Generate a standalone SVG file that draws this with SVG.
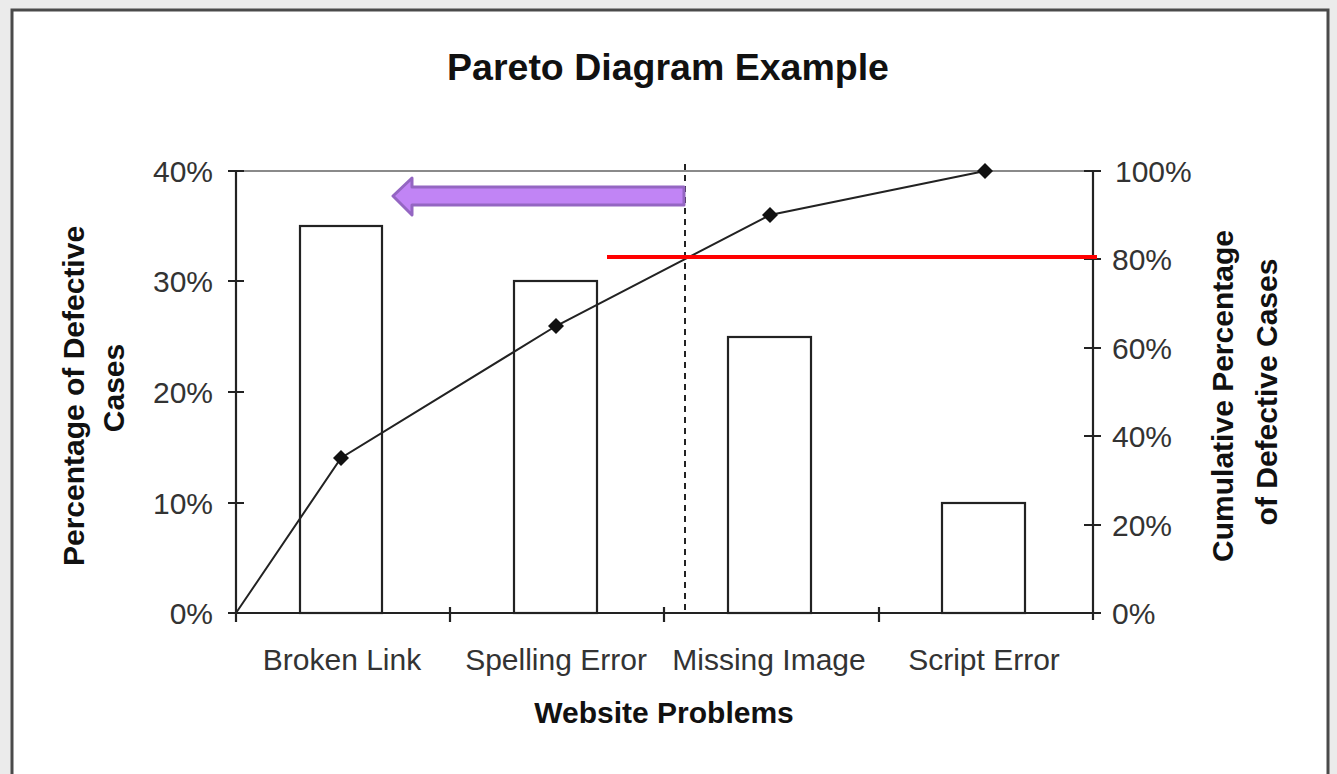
<svg xmlns="http://www.w3.org/2000/svg" width="1337" height="774" viewBox="0 0 1337 774">
<style>
.ax{stroke:#222;stroke-width:2.2;fill:none}
.bar{fill:#fff;stroke:#222;stroke-width:2.2}
.lbl{font-family:"Liberation Sans",Arial,sans-serif;font-size:30px;fill:#333}
.ttl{font-family:"Liberation Sans",Arial,sans-serif;font-weight:bold;font-size:30px;fill:#111}
</style>
<defs>
<path id="dia" d="M0,-8 L8,0 L0,8 L-8,0 Z" fill="#111"/>
</defs>
<rect x="0" y="0" width="1337" height="774" fill="#ebebeb"/>
<rect x="12" y="10" width="1316" height="780" fill="#fff" stroke="#4a4a4a" stroke-width="3"/>
<text x="668" y="80" text-anchor="middle" font-family="Liberation Sans, Arial, sans-serif" font-weight="bold" font-size="37.5" fill="#111">Pareto Diagram Example</text>

<g id="gridline"><line x1="236" y1="171" x2="1093" y2="171" stroke="#8a8a8a" stroke-width="2"/></g>

<g id="bars">
<rect id="bar-broken-link" class="bar" x="300" y="226" width="82" height="387"/>
<rect id="bar-spelling-error" class="bar" x="514" y="281" width="83" height="332"/>
<rect id="bar-missing-image" class="bar" x="728" y="337" width="83" height="276"/>
<rect id="bar-script-error" class="bar" x="942" y="503" width="83" height="110"/>
</g>

<g id="axes">
<line class="ax" x1="236" y1="171" x2="236" y2="613"/>
<line class="ax" x1="1093" y1="171" x2="1093" y2="620"/>
<line class="ax" x1="228" y1="613" x2="1101" y2="613"/>
<path class="ax" d="M228,171H244M228,281H244M228,392H244M228,503H244M1084,171H1101M1084,259H1101M1084,348H1101M1084,436H1101M1084,525H1101M450,607V622M664,607V622M879,607V622M236,613V622"/>
</g>

<g id="left-labels" class="lbl" text-anchor="end">
<text x="213" y="182">40%</text>
<text x="213" y="292">30%</text>
<text x="213" y="403">20%</text>
<text x="213" y="514">10%</text>
<text x="213" y="624">0%</text>
</g>
<g id="right-labels" class="lbl">
<text x="1115" y="182">100%</text>
<text x="1112" y="270">80%</text>
<text x="1112" y="359">60%</text>
<text x="1112" y="447">40%</text>
<text x="1112" y="536">20%</text>
<text x="1112" y="624">0%</text>
</g>
<g id="category-labels" class="lbl" text-anchor="middle">
<text x="342" y="670">Broken Link</text>
<text x="556" y="670">Spelling Error</text>
<text x="769" y="670">Missing Image</text>
<text x="984" y="670">Script Error</text>
</g>

<text class="ttl" x="664" y="723" text-anchor="middle" font-size="31">Website Problems</text>
<g class="ttl" text-anchor="middle">
<text transform="translate(84,396) rotate(-90)">Percentage of Defective</text>
<text transform="translate(124,388) rotate(-90)">Cases</text>
<text transform="translate(1233,396) rotate(-90)">Cumulative Percentage</text>
<text transform="translate(1277,392) rotate(-90)">of Defective Cases</text>
</g>

<g id="connectors">
<polyline id="cumulative" points="236,613 341,458 556,326 770,215 985,171" fill="none" stroke="#222" stroke-width="2"/>
<line id="cutoff" x1="685" y1="164" x2="685" y2="613" stroke="#222" stroke-width="2" stroke-dasharray="6,5"/>
<line id="eighty" x1="607" y1="257" x2="1097" y2="257" stroke="#ff0000" stroke-width="4"/>
<path id="arrow" d="M684,187 L412,187 L412,178 L393,196 L412,215 L412,205 L684,205 Z" fill="#c184f5" stroke="#9466c2" stroke-width="3" stroke-linejoin="round"/>
</g>
<g id="markers">
<use href="#dia" x="341" y="458"/>
<use href="#dia" x="556" y="326"/>
<use href="#dia" x="770" y="215"/>
<use href="#dia" x="985" y="171"/>
</g>
</svg>
